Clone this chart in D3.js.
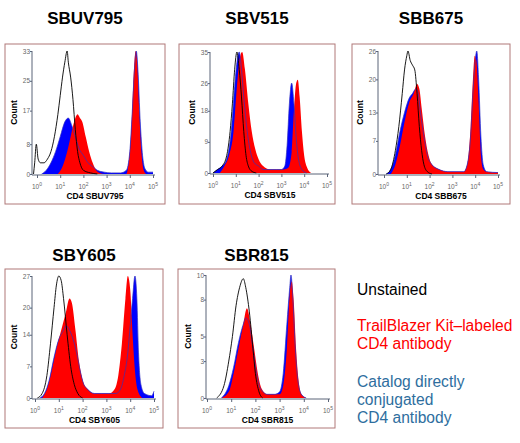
<!DOCTYPE html><html><head><meta charset="utf-8">
<script src="https://cdn.jsdelivr.net/npm/d3@7"></script>
<style>body{margin:0;background:#fff}svg{font-family:Arial,"Liberation Sans",sans-serif}</style></head><body>
<svg id="c" width="520" height="443"></svg>
<script>
const titles=["SBUV795","SBV515","SBB675","SBY605","SBR815"];
const xLabels=["CD4 SBUV795","CD4 SBV515","CD4 SBB675","CD4 SBY605","CD4 SBR815"];
const yTicks=[[0,8,17,25,33],[0,9,18,26,35],[0,7,13,20,26],[0,7,14,20,27],[0,3,5,8,10]];
const xTickExps=[0,1,2,3,4,5];
const unstained=[
[[-0.15,0],[-0.1,3],[-0.03,8],[0.05,4],[0.15,3],[0.3,3],[0.45,4],[0.6,6],[0.75,10],[0.9,16],[1.0,21],[1.1,26],[1.2,30],[1.3,33],[1.35,30],[1.45,26],[1.55,20],[1.65,12],[1.75,6],[1.85,3],[2.0,1],[2.3,0.3],[2.6,0]],
[[0,0],[0.2,1],[0.4,2],[0.6,5],[0.75,12],[0.85,20],[0.95,30],[1.05,35],[1.15,30],[1.25,22],[1.35,12],[1.45,5],[1.55,2],[1.7,0.5],[1.9,0]],
[[0.1,0],[0.3,1],[0.5,5],[0.65,10],[0.8,17],[0.9,22],[1.0,25],[1.05,26],[1.15,24],[1.25,23],[1.35,22],[1.45,17],[1.55,10],[1.65,5],[1.75,2],[1.9,0.5],[2.1,0]],
[[0.1,0],[0.3,1],[0.5,5],[0.65,12],[0.8,20],[0.9,25],[1.0,27],[1.1,26],[1.2,22],[1.35,14],[1.5,7],[1.65,3],[1.8,1],[2.0,0]],
[[0.4,0],[0.7,1],[0.9,3],[1.05,5],[1.2,7.5],[1.35,9],[1.5,9.7],[1.6,9],[1.75,7],[1.9,4],[2.0,2],[2.15,0.5],[2.3,0]]];
const catalog=[
[[0.2,0],[0.4,1],[0.6,3],[0.8,6],[1.0,10],[1.2,14],[1.35,15],[1.5,13],[1.6,11],[1.7,9],[1.8,7],[2.0,5],[2.2,3],[2.4,2],[2.6,1],[2.9,0.5],[3.2,0.3],[3.6,0.3],[3.85,1],[4.0,6],[4.1,16],[4.2,28],[4.28,33],[4.35,28],[4.45,14],[4.55,5],[4.65,1.5],[4.8,0.5],[5.0,0.5]],
[[0,0],[0.2,1],[0.4,2],[0.6,4],[0.8,12],[0.95,25],[1.05,32],[1.15,35],[1.25,30],[1.35,22],[1.5,12],[1.65,6],[1.8,3],[2.0,2],[2.2,1],[2.5,1],[2.8,1],[3.0,1],[3.15,2],[3.25,8],[3.35,20],[3.45,26],[3.55,20],[3.65,10],[3.75,4],[3.9,1],[4.1,0]],
[[0.1,0],[0.3,1],[0.5,4],[0.7,9],[0.9,13],[1.1,16],[1.25,17],[1.4,18],[1.5,17],[1.6,13],[1.75,8],[1.9,4],[2.1,2],[2.4,1],[2.8,0.5],[3.2,0.5],[3.5,0.5],[3.65,2],[3.8,8],[3.9,17],[4.0,24],[4.07,26],[4.15,20],[4.25,8],[4.35,2],[4.5,0.5],[5,0.3]],
[[0.2,0],[0.4,1],[0.6,4],[0.8,9],[1.0,13],[1.2,15],[1.3,16],[1.45,15],[1.6,13],[1.75,10],[1.9,6],[2.05,3],[2.2,2],[2.5,1],[2.8,1],[3.1,1],[3.4,1],[3.6,2],[3.75,5],[3.9,10],[4.0,16],[4.1,22],[4.2,27],[4.28,22],[4.35,10],[4.45,3],[4.6,1],[4.9,0.5],[5,1.5]],
[[0.6,0],[0.9,1],[1.1,2.5],[1.3,4.5],[1.5,6],[1.6,6.5],[1.75,6],[1.9,4],[2.05,2],[2.2,0.8],[2.5,0.3],[2.8,0.3],[3.0,0.5],[3.15,2],[3.3,6],[3.42,9],[3.47,10],[3.55,8],[3.65,4],[3.75,1.5],[3.9,0.3],[4.1,0]]];
const trailblazer=[
[[0.9,0],[1.1,2],[1.3,6],[1.45,10],[1.6,14],[1.75,16],[1.85,15],[1.95,14],[2.1,10],[2.25,6],[2.4,3],[2.55,1],[2.7,0.3],[2.9,0],[3.85,0],[3.95,3],[4.05,10],[4.15,24],[4.25,33],[4.32,30],[4.4,18],[4.5,6],[4.6,1],[4.7,0]],
[[0.3,0],[0.5,2],[0.7,5],[0.9,12],[1.05,25],[1.2,34],[1.28,35],[1.4,30],[1.55,20],[1.7,12],[1.85,7],[2.0,4],[2.2,2],[2.5,1],[2.8,1],[3.1,1],[3.3,1.5],[3.45,6],[3.55,18],[3.65,26],[3.72,27],[3.8,22],[3.9,12],[4.0,5],[4.1,2],[4.3,0]],
[[0.3,0],[0.5,2],[0.7,6],[0.9,11],[1.1,15],[1.3,17],[1.45,19],[1.55,18],[1.65,14],[1.8,8],[1.95,4],[2.1,2],[2.4,1],[2.8,0.5],[3.2,0.5],[3.5,0.5],[3.65,2],[3.8,10],[3.9,20],[3.98,25],[4.05,24],[4.15,15],[4.25,4],[4.35,1],[4.5,0.5],[5,0.3]],
[[0.3,0],[0.5,2],[0.7,6],[0.9,11],[1.1,15],[1.3,19],[1.45,22],[1.55,21],[1.7,15],[1.85,8],[2.0,4],[2.2,2],[2.5,1],[2.8,1],[3.1,1],[3.35,2],[3.5,5],[3.65,12],[3.8,22],[3.9,27],[4.0,24],[4.1,14],[4.2,6],[4.3,2],[4.5,0]],
[[0.6,0],[0.9,0.5],[1.1,2],[1.3,4],[1.5,6],[1.65,7.3],[1.8,6],[1.95,4],[2.1,2],[2.25,0.8],[2.5,0.3],[2.8,0.3],[3.0,0.3],[3.15,1],[3.3,4],[3.42,8.5],[3.5,9.5],[3.58,8],[3.68,4],[3.78,1.5],[3.9,0.3],[4.1,0]]];
const legendItems=[["Unstained"],["TrailBlazer Kit–labeled","CD4 antibody"],["Catalog directly","conjugated","CD4 antibody"]];
const legendColors=["#000","#ff0000","#2e6e9e"];

const L=[
 {f:[5,44,165,204],ax:32,x0:37,x5:153,top:51,base:174,ty:24},
 {f:[179,44,335,204],ax:210,x0:213,x5:327,top:52,base:173,ty:24},
 {f:[352,44,510,204],ax:378,x0:384,x5:498,top:51,base:174,ty:24},
 {f:[5,269,163,428],ax:32,x0:35,x5:154,top:276,base:398,ty:261},
 {f:[178,269,335,428],ax:206,x0:207,x5:328,top:275,base:398,ty:261}];
const svg=d3.select("#c");
L.forEach((p,i)=>{
  const g=svg.append("g");
  g.append("rect").attr("x",p.f[0]).attr("y",p.f[1]).attr("width",p.f[2]-p.f[0]).attr("height",p.f[3]-p.f[1])
   .attr("fill","#fff").attr("stroke","#b07878").attr("stroke-width",1);
  g.append("text").attr("x",(p.f[0]+p.f[2])/2).attr("y",p.ty).attr("text-anchor","middle")
   .attr("font-size",17).attr("font-weight","bold").text(titles[i]);
  const x=d3.scaleLinear().domain([0,5]).range([p.x0,p.x5]);
  const ymax=yTicks[i][4];
  const y=d3.scaleLinear().domain([0,ymax]).range([p.base,p.top]);
  const area=d3.area().x(d=>x(d[0])).y0(p.base).y1(d=>y(d[1])).curve(d3.curveMonotoneX);
  const line=d3.line().x(d=>x(d[0])).y(d=>y(d[1])).curve(d3.curveMonotoneX);
  g.append("path").attr("d",area(catalog[i])).attr("fill","#0000ff");
  g.append("path").attr("d",area(trailblazer[i])).attr("fill","#ff0000");
  g.append("path").attr("d",line(catalog[i])).attr("fill","none").attr("stroke","#3030c0").attr("stroke-width",0.7);
  g.append("path").attr("d",line(unstained[i])).attr("fill","none").attr("stroke","#000").attr("stroke-width",0.9);
  const xa=g.append("g").attr("transform",`translate(0,${p.base+1})`)
   .call(d3.axisBottom(x).tickValues(xTickExps).tickSize(3).tickFormat(""));
  xa.select(".domain").attr("d",`M${p.ax},0H${p.x5+2}`);
  xa.selectAll("path,line").attr("stroke","#5a6478");
  xTickExps.forEach(e=>{
    const t=g.append("text").attr("x",x(e)).attr("y",p.base+15).attr("text-anchor","middle")
      .attr("font-size",6.5).attr("fill","#666");
    t.append("tspan").text("10");
    t.append("tspan").attr("dy",-3).attr("font-size",5).text(e);
  });
  const ya=g.append("g").attr("transform",`translate(${p.ax},0)`)
   .call(d3.axisLeft(y).tickValues(yTicks[i]).tickSize(2));
  ya.selectAll("path,line").attr("stroke","#5a6478");
  ya.select(".domain").attr("d",`M0,${p.base+1}V${p.top}`);
  ya.selectAll("text").attr("font-size",6.5).attr("fill","#666").attr("font-family","Arial").attr("x",-2);
  g.append("text").attr("transform",`translate(${p.ax-15},${(p.top+p.base)/2}) rotate(-90)`)
   .attr("text-anchor","middle").attr("font-size",8.5).attr("font-weight","bold").text("Count");
  g.append("text").attr("x",(p.x0+p.x5)/2).attr("y",p.base+25).attr("text-anchor","middle")
   .attr("font-size",8.5).attr("font-weight","bold").text(xLabels[i]);
});
const lg=svg.append("g");
const ly=[295,331,387];
legendItems.forEach((lines,k)=>{
  lines.forEach((s,j)=>lg.append("text").attr("x",357).attr("y",ly[k]+j*18).attr("font-size",15.6)
    .attr("fill",legendColors[k]).text(s));
});
</script></body></html>
